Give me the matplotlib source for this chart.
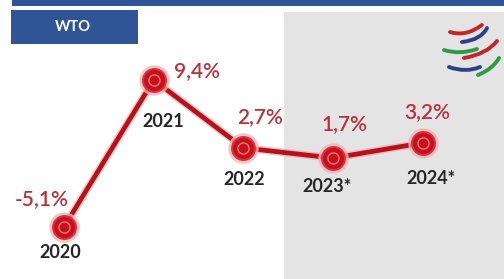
import matplotlib.pyplot as plt
from matplotlib.patches import Rectangle, PathPatch
from matplotlib.path import Path

years = ['2020', '2021', '2022', '2023*', '2024*']
growth = [-5.1, 9.4, 2.7, 1.7, 3.2]
value_labels = ['-5,1%', '9,4%', '2,7%', '1,7%', '3,2%']

# label offsets in pixels (value label, year label)
val_off = [(-22, 28), (43, 9), (17, 31), (11, 34), (4, 31)]
year_off = [(-4, -26), (10, -42), (1, -32), (-6, -28), (8, -36)]

W, H = 504, 279
fig = plt.figure(figsize=(W / 100, H / 100), dpi=100)

# background / decoration axes in pixel coordinates
bg = fig.add_axes([0, 0, 1, 1])
bg.set_xlim(0, W)
bg.set_ylim(0, H)
bg.axis('off')

def py(y):
    return H - y

bg.add_patch(Rectangle((284, 0), W - 284, py(12), color='#e4e4e4', lw=0))
bg.add_patch(Rectangle((12, py(6)), W - 12, 6, color='#2f5597', lw=0))
bg.add_patch(Rectangle((11, py(44)), 127, 34, color='#2f5597', lw=0))
bg.text(73, py(27), 'WTO', color='white', fontsize=10.5, fontweight='bold',
        family='Lato', ha='center', va='center')

# WTO logo strokes
strokes = [
    ((450, 32), (466, 37), (482, 25), '#c0272d'),
    ((462, 42), (481, 40), (487, 28), '#2b3f8f'),
    ((444, 50), (460, 55), (477, 49), '#2e9a47'),
    ((464, 58), (487, 54), (497, 41), '#c0272d'),
    ((449, 67), (466, 73), (480, 67), '#2b3f8f'),
    ((478, 75), (493, 69), (499, 58), '#2e9a47'),
]
for p0, p1, p2, c in strokes:
    path = Path([(p0[0], py(p0[1])), (p1[0], py(p1[1])), (p2[0], py(p2[1]))],
                [Path.MOVETO, Path.CURVE3, Path.CURVE3])
    bg.add_patch(PathPatch(path, fill=False, edgecolor=c, lw=2.8, capstyle='round'))

# data axes
ax = fig.add_axes([0, 0, 1, 1])
ax.patch.set_alpha(0)
ax.axis('off')
x = list(range(len(years)))
ax.set_xlim(-0.713, 4.903)
ax.set_ylim(-10.23, 17.29)

ax.plot(x, growth, color='#f2a0a0', lw=5.5, alpha=0.6, solid_capstyle='round', zorder=2)
ax.plot(x, growth, color='#b8111b', lw=3.4, solid_capstyle='round', zorder=3)
ax.plot(x, growth, 'o', ms=21, color='#f5b5b5', alpha=0.7, zorder=4)
ax.plot(x, growth, 'o', ms=16.5, mfc='#c8101c', mec='#d83040', mew=1.5, zorder=5)
ax.plot(x, growth, 'o', ms=8, mfc='none', mec='#f07878', mew=1, zorder=6)

for i in x:
    ax.annotate(value_labels[i], (x[i], growth[i]), xytext=val_off[i],
                textcoords='offset pixels', ha='center', va='center',
                color='#bb2f3a', fontsize=15, fontweight='semibold',
                family='Lato', zorder=7)
    ax.annotate(years[i], (x[i], growth[i]), xytext=year_off[i],
                textcoords='offset pixels', ha='center', va='center',
                color='#262626', fontsize=13, fontweight='bold', family='Lato', zorder=7)

fig.savefig('out.png', dpi=100)
